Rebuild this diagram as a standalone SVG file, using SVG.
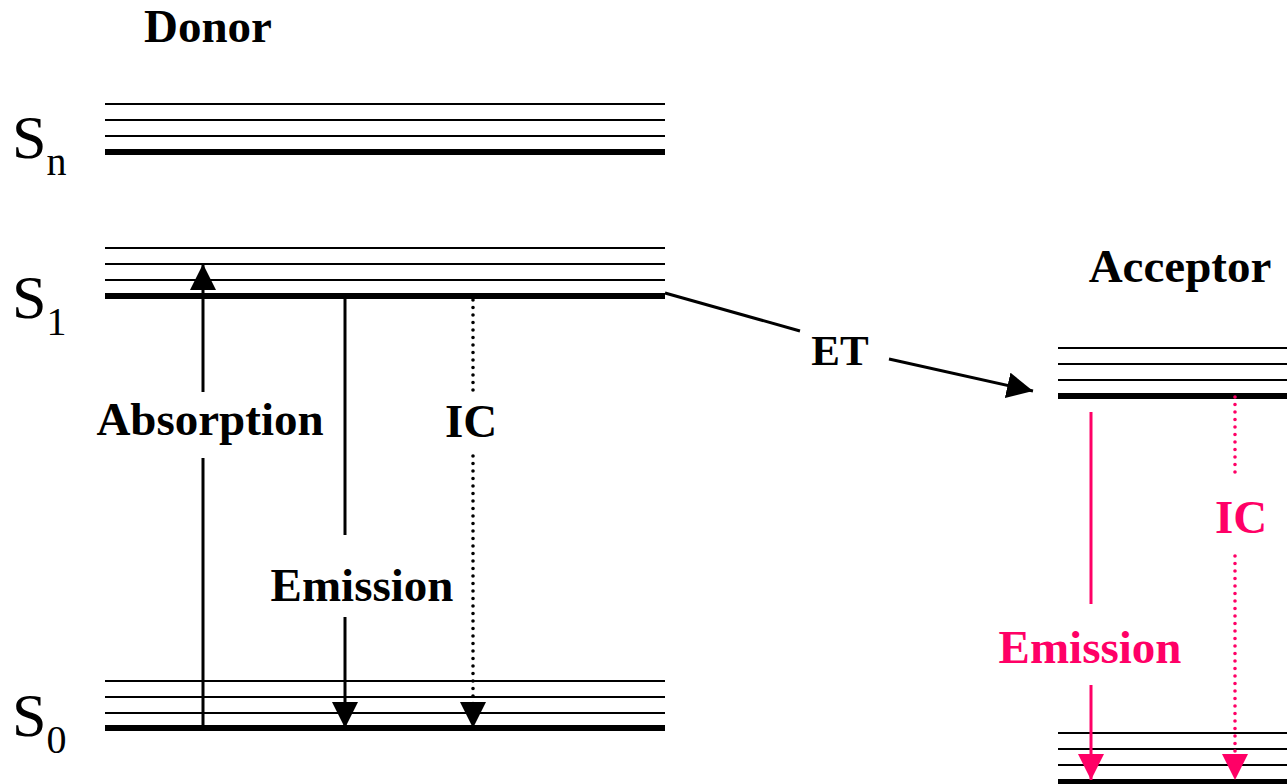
<svg xmlns="http://www.w3.org/2000/svg" width="1287" height="784" viewBox="0 0 1287 784">
<defs>
<style>
.thin{stroke:#000;stroke-width:2;fill:none}
.thick{stroke:#000;stroke-width:6;fill:none}
.arr{stroke:#000;stroke-width:3;fill:none}
.dot{stroke:#000;stroke-width:3.6;fill:none;stroke-dasharray:0 7.5;stroke-linecap:round}
.parr{stroke:#FF0066;stroke-width:3;fill:none}
.pdot{stroke:#FF0066;stroke-width:3.6;fill:none;stroke-dasharray:0 7.5;stroke-linecap:round}
.lbl{font-family:"Liberation Serif","Times New Roman",serif;font-weight:bold;font-size:47px;fill:#000}
.plbl{font-family:"Liberation Serif","Times New Roman",serif;font-weight:bold;font-size:47px;fill:#FF0066}
.st{font-family:"Liberation Serif","Times New Roman",serif;font-size:62px;fill:#000}
.sub{font-size:40px}
</style>
<marker id="ah" markerWidth="26" markerHeight="26" viewBox="0 0 26 26" refX="26" refY="13" orient="auto" markerUnits="userSpaceOnUse"><path d="M0,0 L26,13 L0,26 Z" fill="#000"/></marker>
<marker id="pah" markerWidth="26" markerHeight="26" viewBox="0 0 26 26" refX="26" refY="13" orient="auto" markerUnits="userSpaceOnUse"><path d="M0,0 L26,13 L0,26 Z" fill="#FF0066"/></marker>
</defs>
<g id="donor-title"><text class="lbl" x="208" y="42" text-anchor="middle">Donor</text></g>
<g id="Sn">
<line class="thin" x1="105" y1="104" x2="665" y2="104"/>
<line class="thin" x1="105" y1="120" x2="665" y2="120"/>
<line class="thin" x1="105" y1="136" x2="665" y2="136"/>
<line class="thick" x1="105" y1="152" x2="665" y2="152"/>
<text class="st" x="12" y="158">S<tspan class="sub" dy="17">n</tspan></text>
</g>
<g id="S1">
<line class="thin" x1="105" y1="248" x2="665" y2="248"/>
<line class="thin" x1="105" y1="264" x2="665" y2="264"/>
<line class="thin" x1="105" y1="280" x2="665" y2="280"/>
<line class="thick" x1="105" y1="296" x2="665" y2="296"/>
<text class="st" x="12" y="318">S<tspan class="sub" dy="17">1</tspan></text>
</g>
<g id="S0">
<line class="thin" x1="105" y1="681" x2="665" y2="681"/>
<line class="thin" x1="105" y1="697" x2="665" y2="697"/>
<line class="thin" x1="105" y1="713" x2="665" y2="713"/>
<line class="thick" x1="105" y1="728" x2="665" y2="728"/>
<text class="st" x="12" y="736">S<tspan class="sub" dy="17">0</tspan></text>
</g>
<g id="acceptor-title"><text class="lbl" x="1180" y="282" text-anchor="middle">Acceptor</text></g>
<g id="A1">
<line class="thin" x1="1058" y1="348" x2="1287" y2="348"/>
<line class="thin" x1="1058" y1="364" x2="1287" y2="364"/>
<line class="thin" x1="1058" y1="380" x2="1287" y2="380"/>
<line class="thick" x1="1058" y1="396" x2="1287" y2="396"/>
</g>
<g id="A0">
<line class="thin" x1="1058" y1="733" x2="1287" y2="733"/>
<line class="thin" x1="1058" y1="749" x2="1287" y2="749"/>
<line class="thin" x1="1058" y1="765" x2="1287" y2="765"/>
<line class="thick" x1="1058" y1="782" x2="1287" y2="782"/>
</g>
<g id="connectors">
<line class="arr" x1="203" y1="728" x2="203" y2="458"/>
<line class="arr" x1="203" y1="392" x2="203" y2="264" marker-end="url(#ah)"/>
<line class="arr" x1="345" y1="296" x2="345" y2="535"/>
<line class="arr" x1="345" y1="617" x2="345" y2="728" marker-end="url(#ah)"/>
<line class="dot" x1="473" y1="300" x2="473" y2="396"/>
<line class="dot" x1="473" y1="456" x2="473" y2="712"/>
<line class="arr" x1="473" y1="700" x2="473" y2="728" marker-end="url(#ah)" stroke-opacity="0"/>
<line class="arr" x1="665" y1="293" x2="800" y2="331"/>
<line class="arr" x1="889" y1="359" x2="1033" y2="391" marker-end="url(#ah)"/>
<line class="parr" x1="1091" y1="412" x2="1091" y2="604"/>
<line class="parr" x1="1091" y1="685" x2="1091" y2="780" marker-end="url(#pah)"/>
<line class="pdot" x1="1235" y1="397" x2="1235" y2="478"/>
<line class="pdot" x1="1235" y1="556" x2="1235" y2="760"/>
<line class="parr" x1="1235" y1="750" x2="1235" y2="780" marker-end="url(#pah)" stroke-opacity="0"/>
</g>
<g id="labels">
<text class="lbl" x="210" y="435" text-anchor="middle">Absorption</text>
<text class="lbl" x="362" y="601" text-anchor="middle">Emission</text>
<text class="lbl" x="471" y="437" text-anchor="middle">IC</text>
<text class="lbl" x="840" y="365" text-anchor="middle" style="font-size:43px">ET</text>
<text class="plbl" x="1090" y="663" text-anchor="middle">Emission</text>
<text class="plbl" x="1241" y="533" text-anchor="middle">IC</text>
</g>
</svg>
